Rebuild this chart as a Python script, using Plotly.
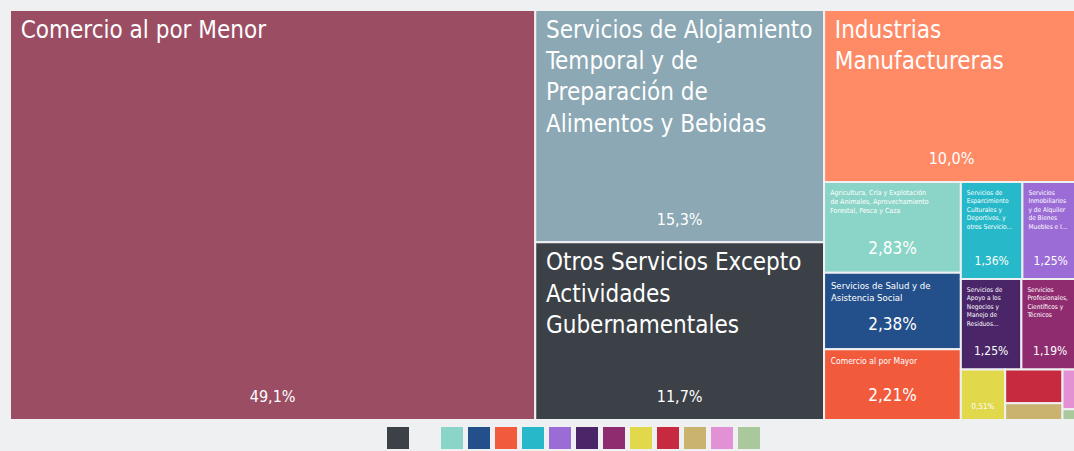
import plotly.graph_objects as go

# Sector shares (%), largest first
sectors = [
    "Comercio al por Menor",
    "Servicios de Alojamiento Temporal y de Preparación de Alimentos y Bebidas",
    "Otros Servicios Excepto Actividades Gubernamentales",
    "Industrias Manufactureras",
    "Agricultura, Cría y Explotación de Animales, Aprovechamiento Forestal, Pesca y Caza",
    "Servicios de Salud y de Asistencia Social",
    "Comercio al por Mayor",
    "Servicios de Esparcimiento Culturales y Deportivos, y otros Servicios Recreativos",
    "Servicios Inmobiliarios y de Alquiler de Bienes Muebles e Intangibles",
    "Servicios de Apoyo a los Negocios y Manejo de Residuos y Desechos, y Servicios de Remediación",
    "Servicios Profesionales, Científicos y Técnicos",
    "Servicios Educativos",
    "Transportes, Correos y Almacenamiento",
    "Información en Medios Masivos",
    "Servicios Financieros y de Seguros",
    "Construcción",
]
shares = [49.1, 15.3, 11.7, 10.0, 2.83, 2.38, 2.21, 1.36, 1.25, 1.25, 1.19,
          0.51, 0.44, 0.22, 0.15, 0.04]
share_labels = ["49,1%", "15,3%", "11,7%", "10,0%", "2,83%", "2,38%", "2,21%",
                "1,36%", "1,25%", "1,25%", "1,19%", "0,51%", "", "", "", ""]

# Wrapped tile titles (one list entry per line)
title_lines = [
    ["Comercio al por Menor"],
    ["Servicios de Alojamiento", "Temporal y de", "Preparación de", "Alimentos y Bebidas"],
    ["Otros Servicios Excepto", "Actividades", "Gubernamentales"],
    ["Industrias", "Manufactureras"],
    ["Agricultura, Cría y Explotación", "de Animales, Aprovechamiento", "Forestal, Pesca y Caza"],
    ["Servicios de Salud y de", "Asistencia Social"],
    ["Comercio al por Mayor"],
    ["Servicios de", "Esparcimiento", "Culturales y", "Deportivos, y", "otros Servicio..."],
    ["Servicios", "Inmobiliarios", "y de Alquiler", "de Bienes", "Muebles e I..."],
    ["Servicios de", "Apoyo a los", "Negocios y", "Manejo de", "Residuos..."],
    ["Servicios", "Profesionales,", "Científicos y", "Técnicos"],
    [], [], [], [], [],
]

colors = ["#9b4d63", "#8ba8b4", "#3c4147", "#ff8a66", "#8bd5c8", "#23508b",
          "#f25a3c", "#27b9c9", "#9b6cd6", "#4a2568", "#8f2c70", "#e2d84c",
          "#c72a3e", "#c9b36e", "#e391d5", "#a9c99d"]

title_sizes = [24, 24, 24, 24, 7, 9.5, 8.5, 6.5, 6.5, 6.5, 6.5, 6, 6, 6, 6, 6]
# visible size of the share figures
share_sizes = [16, 16, 16, 16, 17, 17, 17, 12, 12, 12, 12, 8, 8, 8, 8, 8]

# Legend swatch colours shown under the chart
legend_colors = colors[2:3] + colors[4:]

BG = "#eff0f2"
FONT = "DejaVu Sans Condensed"
W, H = 1081, 451
ML, MR, MT, MB = 10, 2, 10, 31

NBSP = "\u00a0"


def title_markup(lines, size):
    # a slightly larger leading space gives each title some inner padding
    if not lines:
        return ""
    pad = size + (3 if size >= 20 else 4)
    lead = f"<span style='font-size:{pad}px'>{NBSP}</span>"
    return "<br>".join(lead + ln for ln in lines)


def share_markup(label):
    # raised figure so it sits a little above the tile's lower edge
    if not label:
        return ""
    return f"{NBSP}<sup>{label}</sup>{NBSP}"


ROOT = "total"
n = len(sectors)
ids = [ROOT] + sectors
parents = [""] + [ROOT] * n
values = [0] + shares

common = dict(
    ids=ids,
    labels=ids,
    parents=parents,
    values=values,
    branchvalues="remainder",
    sort=True,
    tiling=dict(packing="squarify", squarifyratio=1.618, pad=0),
    pathbar=dict(visible=False),
    hoverinfo="skip",
)

fig = go.Figure()
fig.add_trace(go.Treemap(
    **common,
    text=[""] + [title_markup(l, s) for l, s in zip(title_lines, title_sizes)],
    texttemplate="%{text}",
    textposition="top left",
    textfont=dict(family=FONT, size=[10] + title_sizes, color="white"),
    marker=dict(colors=[BG] + colors, line=dict(width=2, color=BG),
                pad=dict(t=0, l=0, r=0, b=0)),
))
fig.add_trace(go.Treemap(
    **common,
    text=[""] + [share_markup(s) for s in share_labels],
    texttemplate="%{text}",
    textposition="bottom center",
    textfont=dict(family=FONT, size=[10] + [round(s / 0.7, 1) for s in share_sizes],
                  color="white"),
    marker=dict(colors=["rgba(0,0,0,0)"] * (n + 1), line=dict(width=0),
                pad=dict(t=0, l=0, r=0, b=0)),
))

# Colour swatches below the tiles
plot_w = W - ML - MR
plot_h = H - MT - MB


def px_x(x):
    return (x - ML) / plot_w


def px_y(y):
    return 1 - (y - MT) / plot_h


swatch, step = 22, 27
start_x = 387
positions = [start_x] + [start_x + 54 + step * i for i in range(len(legend_colors) - 1)]
for x0, c in zip(positions, legend_colors):
    fig.add_shape(type="rect", xref="paper", yref="paper",
                  x0=px_x(x0), x1=px_x(x0 + swatch),
                  y0=px_y(427), y1=px_y(427 + swatch),
                  fillcolor=c, line=dict(width=0), layer="above")

fig.update_layout(
    width=W, height=H, autosize=False,
    margin=dict(l=ML, r=MR, t=MT, b=MB),
    paper_bgcolor=BG, plot_bgcolor=BG,
    font=dict(family=FONT, color="white"),
    showlegend=False,
)

fig.write_html(
    "out.html",
    post_script="document.documentElement.style.overflow='hidden';"
                "document.body.style.overflow='hidden';document.body.style.margin='0';",
)
